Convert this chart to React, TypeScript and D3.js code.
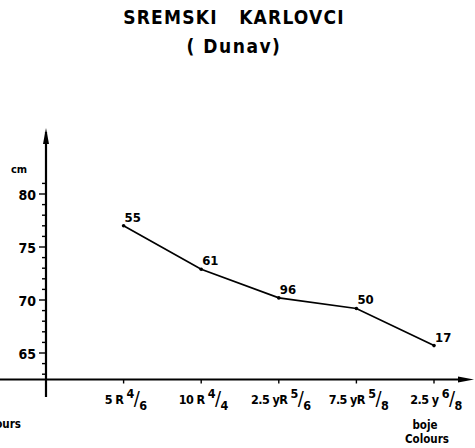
import { useRef, useEffect } from "react";
import * as d3 from "d3";

// colour codes along the x axis: main part + fraction numerator / denominator
const colourCodes = ["5 R ", "10 R ", "2.5 yR ", "7.5 yR ", "2.5 y "];
const numerators = ["4", "4", "5", "5", "6"];
const denominators = ["6", "4", "6", "8", "8"];
// mean values in cm and sample counts written above each point
const values = [77.0, 72.9, 70.2, 69.2, 65.7];
const counts = ["55", "61", "96", "50", "17"];
const yTicks = [65, 70, 75, 80];

export default function App() {
  const ref = useRef<SVGSVGElement>(null);

  useEffect(() => {
    const width = 475;
    const height = 448;
    const svg = d3.select(ref.current);
    svg.selectAll("*").remove();
    svg.attr("viewBox", `0 0 ${width} ${height}`);

    const font = "'DejaVu Sans Condensed', 'DejaVu Sans', sans-serif";

    svg.append("rect").attr("width", width).attr("height", height).attr("fill", "#fff");

    const x = d3.scaleLinear().domain([0, 5]).range([46, 434]);
    const y = d3.scaleLinear().domain([65, 80]).range([353, 194]);
    const axisY = y(62.5);

    // title
    svg.append("text")
      .attr("x", 234).attr("y", 24)
      .attr("text-anchor", "middle")
      .attr("font-family", font).attr("font-weight", "bold").attr("font-size", 19)
      .attr("letter-spacing", 1.2)
      .style("white-space", "pre")
      .text("SREMSKI   KARLOVCI");
    svg.append("text")
      .attr("x", 234).attr("y", 53)
      .attr("text-anchor", "middle")
      .attr("font-family", font).attr("font-weight", "bold").attr("font-size", 19)
      .attr("letter-spacing", 1.5)
      .style("white-space", "pre")
      .text("( Dunav)");

    // y axis
    svg.append("line")
      .attr("x1", x(0)).attr("x2", x(0))
      .attr("y1", 132).attr("y2", 397)
      .attr("stroke", "#000").attr("stroke-width", 2.2);
    svg.append("path")
      .attr("d", `M${x(0)},128 L${x(0) - 3},144 L${x(0) + 3},144 Z`)
      .attr("fill", "#000");

    const minor = d3.range(63, 82);
    svg.selectAll("line.ytick")
      .data(minor)
      .join("line")
      .attr("x1", d => (d % 5 === 0 ? x(0) - 7 : x(0) - 4))
      .attr("x2", x(0))
      .attr("y1", d => y(d)).attr("y2", d => y(d))
      .attr("stroke", "#000").attr("stroke-width", 1.4);

    svg.selectAll("text.ylab")
      .data(yTicks)
      .join("text")
      .attr("x", x(0) - 10)
      .attr("y", d => y(d) + 6)
      .attr("text-anchor", "end")
      .attr("font-family", font).attr("font-weight", "bold").attr("font-size", 14)
      .text(d => d);

    svg.append("text")
      .attr("x", 11).attr("y", 173)
      .attr("font-family", font).attr("font-weight", "bold").attr("font-size", 11)
      .text("cm");

    // x axis
    svg.append("line")
      .attr("x1", 0).attr("x2", 466)
      .attr("y1", axisY).attr("y2", axisY)
      .attr("stroke", "#000").attr("stroke-width", 2.2);
    svg.append("path")
      .attr("d", `M474,${axisY} L458,${axisY - 3} L458,${axisY + 3} Z`)
      .attr("fill", "#000");

    svg.selectAll("line.xtick")
      .data(colourCodes)
      .join("line")
      .attr("x1", (_, i) => x(i + 1)).attr("x2", (_, i) => x(i + 1))
      .attr("y1", axisY).attr("y2", axisY + 4)
      .attr("stroke", "#000").attr("stroke-width", 1.4);

    const xl = svg.selectAll("text.xlab")
      .data(colourCodes)
      .join("text")
      .attr("x", (_, i) => x(i + 1) + 2)
      .attr("y", 404)
      .attr("text-anchor", "middle")
      .attr("font-family", font).attr("font-weight", "bold").attr("font-size", 12.5)
      .attr("letter-spacing", -0.6)
      .style("white-space", "pre");
    xl.append("tspan").text(d => d);
    xl.append("tspan").attr("dy", -6).attr("font-size", 12.5).text((_, i) => numerators[i]);
    xl.append("tspan").attr("dy", 7).attr("font-size", 20).attr("font-weight", "normal").text("/");
    xl.append("tspan").attr("dy", 5).attr("font-size", 12.5).text((_, i) => denominators[i]);

    svg.append("text")
      .attr("x", 425).attr("y", 429)
      .attr("text-anchor", "middle")
      .attr("font-family", font).attr("font-weight", "bold").attr("font-size", 11.5)
      .text("boje");
    svg.append("text")
      .attr("x", 427).attr("y", 443)
      .attr("text-anchor", "middle")
      .attr("font-family", font).attr("font-weight", "bold").attr("font-size", 11.5)
      .text("Colours");
    svg.append("text")
      .attr("x", 21).attr("y", 428)
      .attr("text-anchor", "end")
      .attr("font-family", font).attr("font-weight", "bold").attr("font-size", 11.5)
      .text("Colours");

    // line
    const line = d3.line<number>()
      .x((_, i) => x(i + 1))
      .y(d => y(d));
    svg.append("path")
      .datum(values)
      .attr("d", line)
      .attr("fill", "none")
      .attr("stroke", "#000").attr("stroke-width", 1.7);

    svg.selectAll("circle.pt")
      .data(values)
      .join("circle")
      .attr("cx", (_, i) => x(i + 1))
      .attr("cy", d => y(d))
      .attr("r", 1.8)
      .attr("fill", "#000");

    svg.selectAll("text.cnt")
      .data(values)
      .join("text")
      .attr("x", (_, i) => x(i + 1) + 1)
      .attr("y", d => y(d) - 4)
      .attr("font-family", font).attr("font-weight", "bold").attr("font-size", 13)
      .text((_, i) => counts[i]);
  }, []);

  return (
    <div style={{ position: "fixed", left: 0, top: 0, width: 475, height: 448, overflow: "hidden" }}>
      <svg ref={ref} width={475} height={448} style={{ display: "block" }} />
    </div>
  );
}
